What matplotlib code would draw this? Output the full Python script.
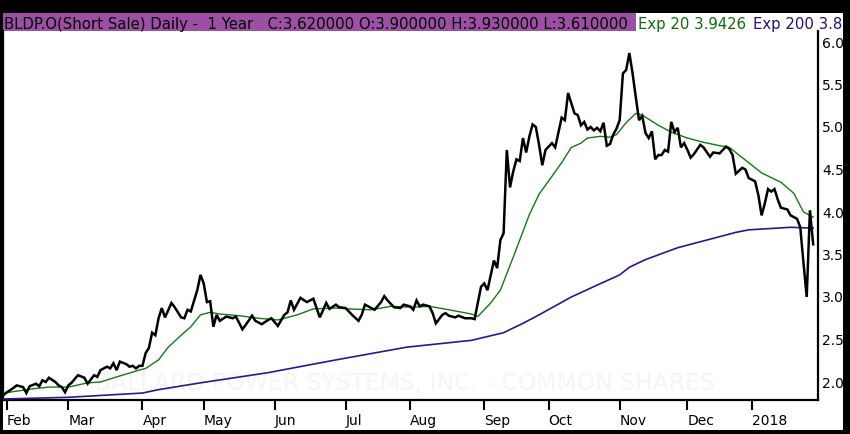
import numpy as np
import pandas as pd
import matplotlib
matplotlib.use('Agg')
import matplotlib.pyplot as plt
from matplotlib.patches import Rectangle
from matplotlib.transforms import Bbox

# ---------------- data ----------------
# trading sessions: 2017-01-31 .. 2018-01-30 (index 0 .. 251)
holidays = ['2017-02-20', '2017-04-14', '2017-05-29', '2017-07-04', '2017-09-04',
            '2017-11-23', '2017-12-25', '2018-01-01', '2018-01-15']
month_labels = ['Feb', 'Mar', 'Apr', 'May', 'Jun', 'Jul', 'Aug', 'Sep', 'Oct', 'Nov', 'Dec', '2018']

close_day = [0, 1, 3, 4, 6, 7, 8, 10, 11, 12, 13, 14, 16, 17, 18, 19, 20, 21, 23, 25,
             26, 28, 29, 30, 32, 33, 34, 35, 36, 38, 39, 40, 41, 42, 43, 44, 45, 46, 47, 48,
             49, 50, 52, 53, 55, 56, 57, 58, 60, 61, 62, 63, 64, 65, 66, 67, 69, 71, 72, 74,
             75, 77, 78, 80, 82, 83, 85, 87, 88, 89, 90, 92, 94, 96, 98, 100, 101, 103, 104, 106,
             108, 110, 111, 112, 114, 115, 117, 118, 119, 121, 123, 124, 126, 127, 128, 129, 130, 132, 133, 134,
             136, 137, 138, 140, 141, 143, 145, 146, 147, 148, 149, 150, 152, 153, 154, 155, 156, 157, 158, 159,
             160, 161, 162, 163, 164, 165, 166, 167, 168, 170, 171, 173, 174, 175, 176, 177, 178, 179, 180, 181,
             182, 183, 184, 185, 186, 187, 188, 189, 190, 191, 192, 193, 194, 195, 196, 197, 198, 199, 200, 201,
             202, 203, 204, 205, 206, 207, 208, 209, 210, 211, 212, 213, 214, 216, 217, 219, 220, 222, 224, 225,
             226, 227, 229, 230, 231, 233, 234, 235, 236, 237, 238, 239, 240, 241, 243, 244, 246, 247, 248, 249,
             250, 251]
close = [1.85, 1.88, 1.93, 1.96, 1.94, 1.87, 1.95, 1.98, 1.95, 2.02, 2.00, 2.05, 2.00, 1.96, 1.94, 1.88, 1.96, 1.99, 2.08, 2.05,
         1.98, 2.08, 2.06, 2.14, 2.18, 2.16, 2.22, 2.14, 2.24, 2.21, 2.18, 2.19, 2.16, 2.19, 2.19, 2.34, 2.40, 2.58, 2.55, 2.75,
         2.87, 2.76, 2.93, 2.88, 2.76, 2.75, 2.85, 2.83, 3.08, 3.26, 3.16, 2.94, 2.95, 2.65, 2.79, 2.72, 2.77, 2.75, 2.77, 2.62,
         2.67, 2.78, 2.72, 2.68, 2.73, 2.75, 2.66, 2.79, 2.82, 2.96, 2.85, 2.99, 2.94, 2.98, 2.76, 2.93, 2.86, 2.91, 2.88, 2.87,
         2.79, 2.72, 2.79, 2.91, 2.87, 2.85, 2.94, 3.01, 2.96, 2.88, 2.87, 2.91, 2.89, 2.85, 2.96, 2.89, 2.91, 2.89, 2.81, 2.69,
         2.79, 2.81, 2.78, 2.76, 2.78, 2.75, 2.75, 2.74, 2.93, 3.12, 3.16, 3.08, 3.43, 3.34, 3.67, 3.75, 4.73, 4.29, 4.48, 4.62,
         4.60, 4.87, 4.70, 4.89, 5.03, 5.00, 4.79, 4.55, 4.73, 4.81, 4.76, 5.11, 5.08, 5.40, 5.28, 5.16, 5.14, 5.02, 5.06, 4.97,
         5.00, 4.96, 4.99, 4.95, 5.05, 4.78, 4.80, 4.91, 4.98, 5.08, 5.63, 5.67, 5.87, 5.63, 5.35, 5.08, 5.13, 4.93, 4.87, 4.95,
         4.62, 4.67, 4.67, 4.73, 4.71, 5.06, 4.94, 4.99, 4.76, 4.81, 4.73, 4.64, 4.68, 4.79, 4.76, 4.65, 4.70, 4.69, 4.77, 4.74,
         4.67, 4.45, 4.52, 4.50, 4.40, 4.36, 4.20, 3.96, 4.10, 4.27, 4.24, 4.27, 4.15, 4.05, 4.03, 3.96, 3.92, 3.82, 3.40, 3.00,
         4.02, 3.62]

ema20_day = [0, 9, 14, 20, 26, 30, 35, 42, 44, 48, 51, 55, 58, 61, 64, 67, 73, 79, 85, 91,
             96, 103, 107, 114, 120, 126, 132, 138, 145, 147, 151, 154, 158, 160, 162, 163, 166, 170, 173, 176,
             179, 181, 185, 188, 190, 193, 196, 198, 203, 207, 212, 217, 222, 225, 230, 235, 241, 245, 248, 251]
ema20 = [1.87, 1.92, 1.94, 1.94, 1.99, 2.00, 2.06, 2.14, 2.16, 2.26, 2.41, 2.55, 2.65, 2.79, 2.82, 2.80, 2.78, 2.75, 2.73, 2.79,
         2.86, 2.87, 2.86, 2.85, 2.89, 2.88, 2.89, 2.85, 2.80, 2.77, 2.93, 3.08, 3.47, 3.67, 3.87, 3.97, 4.21, 4.42, 4.58, 4.76,
         4.81, 4.87, 4.89, 4.88, 4.91, 5.05, 5.16, 5.14, 5.02, 4.94, 4.87, 4.82, 4.78, 4.76, 4.61, 4.46, 4.35, 4.22, 4.00, 3.94]

ema200_day = [0, 20, 43, 48, 61, 82, 103, 125, 145, 155, 161, 166, 176, 184, 191, 194, 199, 209, 217, 227,
              231, 244, 251]
ema200 = [1.80, 1.82, 1.87, 1.91, 1.99, 2.11, 2.26, 2.41, 2.49, 2.58, 2.69, 2.79, 3.00, 3.14, 3.26, 3.35, 3.44, 3.58, 3.66, 3.76,
          3.79, 3.82, 3.81]

y_ticks = [2.0, 2.5, 3.0, 3.5, 4.0, 4.5, 5.0, 5.5, 6.0]

header = 'BLDP.O(Short Sale) Daily -  1 Year   C:3.620000 O:3.900000 H:3.930000 L:3.610000'
exp20_label = 'Exp 20 3.9426'
exp200_label = 'Exp 200 3.8'
watermark = 'BALLARD POWER SYSTEMS, INC. - COMMON SHARES'

# ---------------- calendar ----------------
sessions = pd.bdate_range('2017-01-31', '2018-01-30')
sessions = sessions[~sessions.isin(pd.to_datetime(holidays))]
per = sessions.to_period('M')
first_idx = [i for i in range(1, len(sessions)) if per[i] != per[i - 1]]

# ---------------- figure ----------------
W, H, DPI = 850, 434, 100
fig = plt.figure(figsize=(W / DPI, H / DPI), dpi=DPI, facecolor='black')


def fx(px):
    return px / W


def fy(py):
    return 1 - py / H


fig.patches.append(Rectangle((fx(3), fy(430)), fx(843) - fx(3), fy(13) - fy(430),
                             transform=fig.transFigure, facecolor='white', edgecolor='none', zorder=-2))
fig.patches.append(Rectangle((fx(3), fy(31)), fx(636) - fx(3), fy(13) - fy(31),
                             transform=fig.transFigure, facecolor='#9c4fa4', edgecolor='none', zorder=-1))

ax = fig.add_axes([fx(3), fy(400), fx(818) - fx(3), fy(31) - fy(400)])
ax.set_facecolor('white')

GREEN = '#157815'
PURPLE = '#30168c'

ax.plot(ema200_day, ema200, color=PURPLE, lw=1.2, zorder=3)
ax.plot(ema20_day, ema20, color=GREEN, lw=1.0, zorder=4)
ax.plot(close_day, close, color='black', lw=1.8, zorder=5, solid_joinstyle='miter')

ax.text(0.493, 0.027, watermark, transform=ax.transAxes, ha='center', va='baseline',
        fontsize=16.9, color='#f5f5f5', zorder=1)

# scales: 6.0 at y=42px, 2.0 at y=382px
ax.set_ylim(6 - (400 - 42) / 85.0, 6 + (42 - 31) / 85.0)
ax.set_xlim(-0.24, 252.5)

ax.yaxis.tick_right()
ax.set_yticks(y_ticks)
ax.set_yticklabels([f'{v:.1f}' for v in y_ticks])
ax.tick_params(axis='y', length=0, pad=3, labelsize=10, colors='black')

ax.set_xticks(first_idx)
ax.set_xticklabels(month_labels, ha='left')
ax.tick_params(axis='x', direction='out', length=7.2, width=1.5, pad=3, labelsize=10, colors='black')

ax.spines['top'].set_visible(False)
for s in ['left', 'bottom', 'right']:
    ax.spines[s].set_color('black')
    ax.spines[s].set_linewidth(1.6)

# header texts
clip = Bbox([[3, H - 430], [843, H - 13]])
fig.text(fx(4), fy(29), header, fontsize=10.7, color='black', va='baseline', ha='left', zorder=5)
fig.text(fx(638), fy(29), exp20_label, fontsize=10.7, color='#0a6e0a', va='baseline', ha='left', zorder=5)
t = fig.text(fx(753), fy(29), exp200_label, fontsize=10.7, color='#2a0c7c', va='baseline', ha='left', zorder=5)
t.set_clip_box(clip)
t.set_clip_on(True)

fig.savefig('out.png', dpi=DPI, facecolor='black')
